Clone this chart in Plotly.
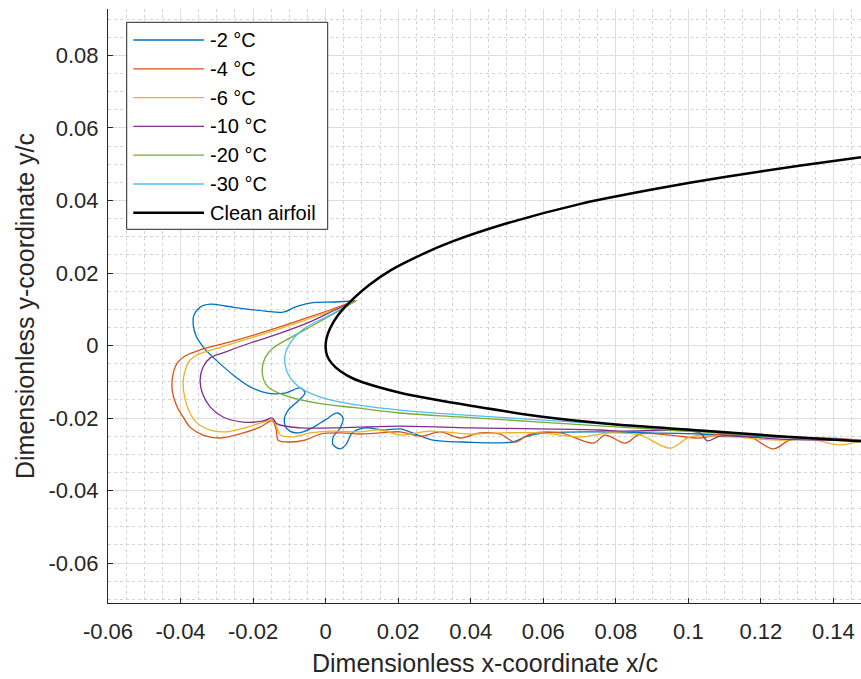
import plotly.graph_objects as go

# Series labels and colours (MATLAB default colour order)
labels = ["-2 °C", "-4 °C", "-6 °C", "-10 °C", "-20 °C", "-30 °C", "Clean airfoil"]
colors = ["#0072BD", "#D95319", "#EDB120", "#7E2F8E", "#77AC30", "#4DBEEE", "#000000"]

# Ice shape at -2 °C
x_m2 = [0.0081, 0.0026, -0.0043, -0.0084, -0.0117, -0.0167, -0.0222, -0.0277, -0.0318, -0.0346,
        -0.0363, -0.0365, -0.0357, -0.0335, -0.0299, -0.0255, -0.0208, -0.0161, -0.0112, -0.0070,
        -0.0057, -0.0076, -0.0103, -0.0114, -0.0106, -0.0076, -0.0037, -0.0001, 0.0032, 0.0048,
        0.0040, 0.0021, 0.0021, 0.0040, 0.0057, 0.0073, 0.0109, 0.0159, 0.0205, 0.0247,
        0.0296, 0.0379, 0.0517, 0.0550, 0.0605, 0.0757, 0.0895, 0.1032, 0.1170, 0.1308,
        0.1476]
y_m2 = [0.0123, 0.0120, 0.0117, 0.0106, 0.0092, 0.0095, 0.0101, 0.0109, 0.0114, 0.0106,
        0.0084, 0.0057, 0.0026, -0.0007, -0.0043, -0.0081, -0.0114, -0.0131, -0.0131, -0.0117,
        -0.0131, -0.0153, -0.0178, -0.0205, -0.0230, -0.0241, -0.0227, -0.0205, -0.0186, -0.0200,
        -0.0227, -0.0252, -0.0274, -0.0285, -0.0272, -0.0241, -0.0227, -0.0233, -0.0230, -0.0244,
        -0.0261, -0.0266, -0.0266, -0.0252, -0.0241, -0.0238, -0.0241, -0.0244, -0.0250, -0.0255,
        -0.0261]

# Ice shape at -4 °C
x_m4 = [0.0081, 0.0012, -0.0070, -0.0181, -0.0263, -0.0346, -0.0382, -0.0407, -0.0420, -0.0423,
        -0.0409, -0.0393, -0.0374, -0.0338, -0.0291, -0.0227, -0.0181, -0.0147, -0.0136, -0.0131,
        -0.0098, -0.0057, -0.0015, 0.0040, 0.0095, 0.0150, 0.0205, 0.0261, 0.0316, 0.0371,
        0.0426, 0.0481, 0.0522, 0.0564, 0.0647, 0.0738, 0.0771, 0.0826, 0.0867, 0.0950,
        0.1032, 0.1088, 0.1170, 0.1234, 0.1280, 0.1363, 0.1476]
y_m4 = [0.0123, 0.0098, 0.0070, 0.0034, 0.0010, -0.0012, -0.0026, -0.0045, -0.0076, -0.0123,
        -0.0170, -0.0197, -0.0225, -0.0247, -0.0255, -0.0241, -0.0225, -0.0208, -0.0233, -0.0261,
        -0.0266, -0.0261, -0.0244, -0.0241, -0.0244, -0.0241, -0.0238, -0.0250, -0.0238, -0.0255,
        -0.0241, -0.0244, -0.0266, -0.0244, -0.0241, -0.0269, -0.0247, -0.0269, -0.0244, -0.0247,
        -0.0255, -0.0244, -0.0252, -0.0285, -0.0261, -0.0255, -0.0261]

# Ice shape at -6 °C
x_m6 = [0.0081, 0.0012, -0.0070, -0.0181, -0.0277, -0.0354, -0.0374, -0.0387, -0.0393, -0.0387,
        -0.0374, -0.0354, -0.0318, -0.0272, -0.0216, -0.0172, -0.0145, -0.0134, -0.0125, -0.0092,
        -0.0043, 0.0012, 0.0095, 0.0150, 0.0205, 0.0288, 0.0398, 0.0481, 0.0591, 0.0702,
        0.0784, 0.0867, 0.0950, 0.1005, 0.1115, 0.1253, 0.1336, 0.1418, 0.1476]
y_m6 = [0.0120, 0.0095, 0.0065, 0.0029, -0.0001, -0.0026, -0.0040, -0.0068, -0.0103, -0.0150,
        -0.0186, -0.0214, -0.0233, -0.0238, -0.0225, -0.0211, -0.0205, -0.0227, -0.0247, -0.0252,
        -0.0241, -0.0236, -0.0238, -0.0233, -0.0247, -0.0236, -0.0244, -0.0241, -0.0241, -0.0252,
        -0.0241, -0.0247, -0.0283, -0.0252, -0.0252, -0.0261, -0.0258, -0.0274, -0.0263]

# Ice shape at -10 °C
x_m10 = [0.0076, 0.0026, -0.0043, -0.0125, -0.0208, -0.0277, -0.0318, -0.0338, -0.0346, -0.0340,
         -0.0318, -0.0283, -0.0227, -0.0172, -0.0147, -0.0134, -0.0070, 0.0021, 0.0205, 0.0398,
         0.0591, 0.0757, 0.0812, 0.1032, 0.1052, 0.1088, 0.1253, 0.1476]
y_m10 = [0.0120, 0.0098, 0.0065, 0.0034, 0.0007, -0.0018, -0.0034, -0.0059, -0.0095, -0.0131,
         -0.0170, -0.0197, -0.0211, -0.0208, -0.0200, -0.0216, -0.0227, -0.0227, -0.0222, -0.0227,
         -0.0230, -0.0233, -0.0236, -0.0241, -0.0263, -0.0250, -0.0258, -0.0263]

# Ice shape at -20 °C
x_m20 = [0.0087, 0.0026, -0.0043, -0.0098, -0.0145, -0.0167, -0.0175, -0.0161, -0.0117, -0.0023,
         0.0087, 0.0205, 0.0371, 0.0591, 0.0812, 0.1032, 0.1253, 0.1476]
y_m20 = [0.0125, 0.0090, 0.0051, 0.0021, -0.0007, -0.0034, -0.0073, -0.0112, -0.0136, -0.0159,
         -0.0172, -0.0186, -0.0197, -0.0211, -0.0225, -0.0238, -0.0252, -0.0261]

# Ice shape at -30 °C
x_m30 = [0.0076, 0.0012, -0.0057, -0.0092, -0.0112, -0.0106, -0.0076, -0.0015, 0.0068, 0.0205,
         0.0343, 0.0591, 0.0812, 0.1032, 0.1253, 0.1476]
y_m30 = [0.0120, 0.0084, 0.0048, 0.0015, -0.0026, -0.0073, -0.0112, -0.0142, -0.0161, -0.0178,
         -0.0189, -0.0205, -0.0219, -0.0233, -0.0250, -0.0261]

# Clean airfoil contour (upper surface from the right, round the nose, lower surface)
x_clean = [0.1476, 0.1300, 0.1100, 0.0900, 0.0700, 0.0500, 0.0350, 0.0250, 0.0180, 0.0120,
           0.0075, 0.0035, 0.0012, 0.0002, 0.0000, 0.0004, 0.0016, 0.0040, 0.0080, 0.0140,
           0.0205, 0.0300, 0.0400, 0.0592, 0.0800, 0.1030, 0.1250, 0.1476]
y_clean = [0.0519, 0.0495, 0.0465, 0.0430, 0.0390, 0.0337, 0.0287, 0.0244, 0.0208, 0.0167,
           0.0128, 0.0085, 0.0047, 0.0018, -0.0005, -0.0028, -0.0048, -0.0070, -0.0093, -0.0113,
           -0.0130, -0.0149, -0.0166, -0.0196, -0.0218, -0.0234, -0.0250, -0.0264]

series_x = [x_m2, x_m4, x_m6, x_m10, x_m20, x_m30, x_clean]
series_y = [y_m2, y_m4, y_m6, y_m10, y_m20, y_m30, y_clean]

# Axis limits and ticks
x_range = [-0.06, 0.1476]
y_range = [-0.071, 0.0928]
x_ticks = [-0.06, -0.04, -0.02, 0, 0.02, 0.04, 0.06, 0.08, 0.1, 0.12, 0.14]
x_tick_text = ["-0.06", "-0.04", "-0.02", "0", "0.02", "0.04", "0.06", "0.08", "0.1", "0.12", "0.14"]
y_ticks = [-0.06, -0.04, -0.02, 0, 0.02, 0.04, 0.06, 0.08]
y_tick_text = ["-0.06", "-0.04", "-0.02", "0", "0.02", "0.04", "0.06", "0.08"]

FONT = "Liberation Sans, Arial, Helvetica, sans-serif"
INK = "#262626"
W, H = 861, 679
ML, MR, MT, MB = 108, 0, 9, 76

fig = go.Figure()
for i, (xs, ys) in enumerate(zip(series_x, series_y)):
    is_clean = i == len(series_x) - 1
    fig.add_trace(go.Scatter(
        x=xs, y=ys, mode="lines", name=labels[i], showlegend=False,
        line=dict(color=colors[i], width=2.5 if is_clean else 1.3,
                  shape="spline", smoothing=0.7 if is_clean else 0.95),
        hoverinfo="skip",
    ))

axis_common = dict(
    showline=True, linecolor=INK, linewidth=1,
    ticks="inside", ticklen=5, tickcolor=INK, tickwidth=1,
    tickfont=dict(family=FONT, size=22, color=INK),
    showgrid=True, gridcolor="#dedede", gridwidth=1,
    zeroline=False, mirror=False,
    minor=dict(showgrid=True, gridcolor="#d4d4d4", griddash="dot", gridwidth=1),
)
fig.update_xaxes(range=x_range, tickmode="array", tickvals=x_ticks, ticktext=x_tick_text,
                 minor_dtick=0.005, minor_tick0=0, ticklabelstandoff=9, **axis_common)
fig.update_yaxes(range=y_range, tickmode="array", tickvals=y_ticks, ticktext=y_tick_text,
                 minor_dtick=0.005, minor_tick0=0, ticklabelstandoff=4, **axis_common)


def px_x(p):
    return (p - ML) / (W - ML - MR)


def px_y(p):
    return (H - MB - p) / (H - MT - MB)


shapes = []
annotations = []

# Legend box
shapes.append(dict(type="rect", xref="paper", yref="paper",
                   x0=px_x(126.7), x1=px_x(327.7), y0=px_y(229.3), y1=px_y(22.3),
                   line=dict(color=INK, width=1), fillcolor="white", layer="above"))
row_y = [40, 68.8, 97.6, 126.4, 155.2, 184.0, 212.8]
for i, lab in enumerate(labels):
    is_clean = i == len(labels) - 1
    shapes.append(dict(type="line", xref="paper", yref="paper",
                       x0=px_x(133.3), x1=px_x(204), y0=px_y(row_y[i]), y1=px_y(row_y[i]),
                       line=dict(color=colors[i], width=2.5 if is_clean else 1.3), layer="above"))
    annotations.append(dict(xref="paper", yref="paper", x=px_x(208), y=px_y(row_y[i]),
                            text=lab, showarrow=False, xanchor="left", yanchor="middle",
                            font=dict(family=FONT, size=20, color="black")))

# Axis titles
annotations.append(dict(xref="paper", yref="paper", x=0.5, y=px_y(663),
                        text="Dimensionless x-coordinate x/c", showarrow=False,
                        xanchor="center", yanchor="middle",
                        font=dict(family=FONT, size=25, color=INK)))
annotations.append(dict(xref="paper", yref="paper", x=px_x(25), y=0.5,
                        text="Dimensionless y-coordinate y/c", showarrow=False,
                        textangle=-90, xanchor="center", yanchor="middle",
                        font=dict(family=FONT, size=25, color=INK)))

fig.update_layout(
    width=W, height=H,
    margin=dict(l=ML, r=MR, t=MT, b=MB),
    paper_bgcolor="white", plot_bgcolor="white",
    shapes=shapes, annotations=annotations,
    showlegend=False,
)

fig.write_html("out.html")
